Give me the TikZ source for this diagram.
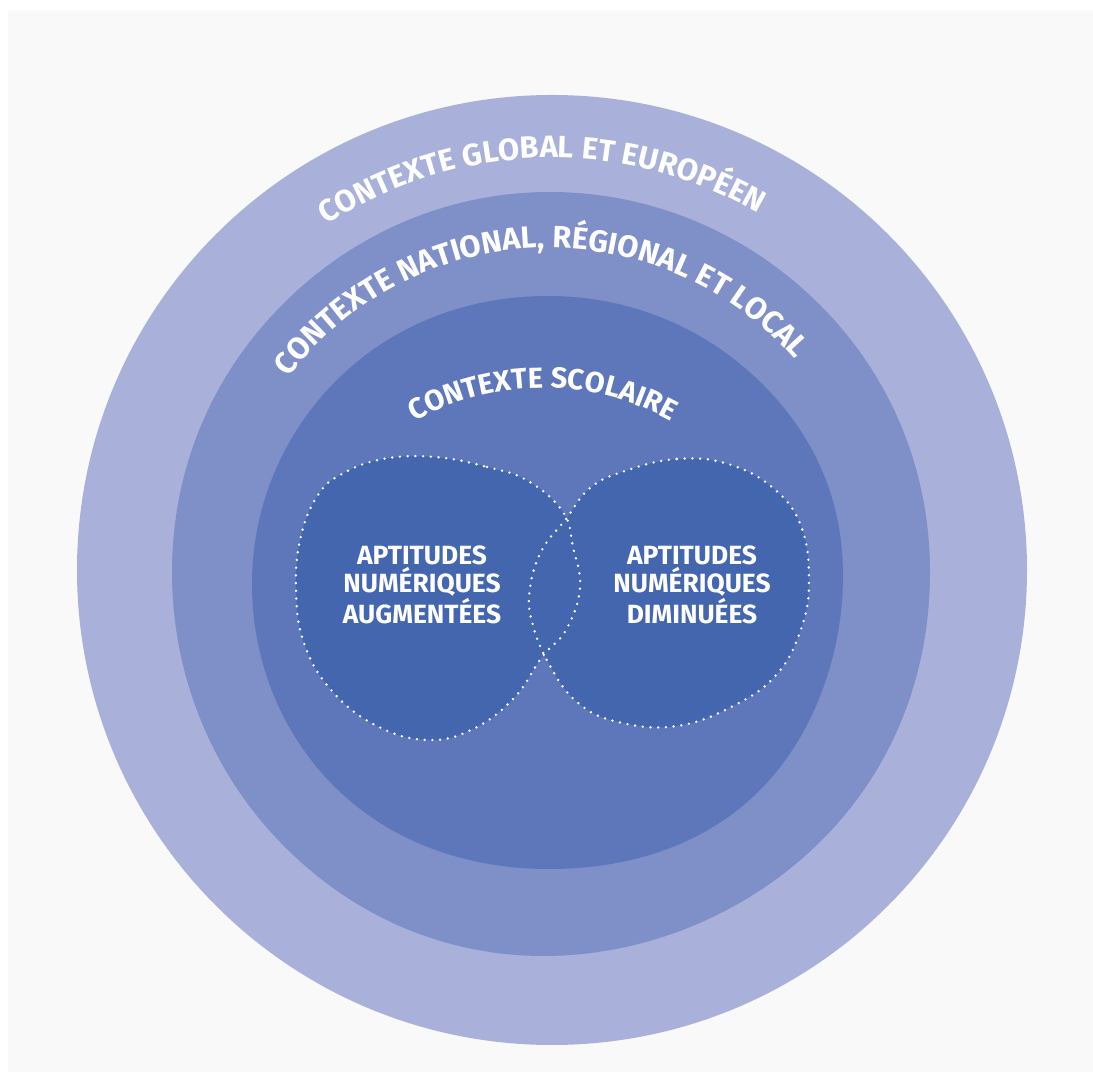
\documentclass[tikz,border=0pt]{standalone}
\usepackage{fontspec}
\setmainfont{Fira Sans}
\usepackage{tikz}
\usetikzlibrary{decorations.text}

\definecolor{fondgris}{HTML}{F9F9FA}
\definecolor{globalbleu}{HTML}{A9B1DA}
\definecolor{nationalbleu}{HTML}{7F8FC8}
\definecolor{scolairebleu}{HTML}{5E77BA}
\definecolor{aptitudebleu}{HTML}{4466AF}

\newcommand{\ringfont}{\fontsize{17.5}{19}\selectfont\bfseries}
\newcommand{\ecolefont}{\fontsize{16.5}{18}\selectfont\bfseries}

\begin{document}
\begin{tikzpicture}[x=0.02cm,y=0.02cm]
	
	\tikzset{ring text/.style={decorate, decoration={text along path, text align=center, text color=white}}}
	\tikzset{lobe/.style={fill=aptitudebleu}}
	\tikzset{lobe border/.style={white, line width=1.5pt, line cap=round, dash pattern=on 0pt off 4.4pt}}
	\tikzset{lobe text/.style={text=white, align=center, font=\fontsize{15}{16.2}\selectfont\bfseries}}
	
	\useasboundingbox (0,0) rectangle (1093,1072);
	\fill[white] (0,0) rectangle (1093,1072);
	\fill[fondgris] (8,0) rectangle (1093,1062);
	
	% global context
	\fill[globalbleu] (552,502) circle (475);
	
	% national context
	\fill[nationalbleu] plot[smooth cycle, tension=0.68] coordinates {
		(550,880) (819,768) (930,502) (822,232) (545,116) (280,230) (172,502) (283,768)};
	
	% school context
	\fill[scolairebleu] plot[smooth cycle, tension=0.68] coordinates {
		(548,776) (755,695) (843,500) (760,282) (548,203) (337,283) (252,490) (340,695)};
	
	% the two lobes
	\fill[lobe] plot[smooth cycle, tension=0.7] coordinates {
		(435,615) (487,605) (528,591) (563,560) (573,525) (580,484) (566,442)
		(542,415) (514,374) (473,343) (428,332) (377,346) (332,381) (304,429)
		(296,484) (301,536) (318,577) (342,598) (383,613)};
	\fill[lobe] plot[smooth cycle, tension=0.7] coordinates {
		(625,601) (677,613) (728,608) (773,584) (801,546) (809,491) (801,443)
		(777,398) (735,367) (677,346) (618,350) (577,370) (549,408) (532,450)
		(530,484) (542,522) (566,553) (590,584)};
	
	\draw[lobe border] plot[smooth cycle, tension=0.7] coordinates {
		(435,615) (487,605) (528,591) (563,560) (573,525) (580,484) (566,442)
		(542,415) (514,374) (473,343) (428,332) (377,346) (332,381) (304,429)
		(296,484) (301,536) (318,577) (342,598) (383,613)};
	\draw[lobe border] plot[smooth cycle, tension=0.7] coordinates {
		(625,601) (677,613) (728,608) (773,584) (801,546) (809,491) (801,443)
		(777,398) (735,367) (677,346) (618,350) (577,370) (549,408) (532,450)
		(530,484) (542,522) (566,553) (590,584)};
	
	% curved titles
	\path[ring text, decoration={text={|\ringfont|CONTEXTE GLOBAL ET EUROPÉEN}}]
		(552,502) ++(161.5:412) arc (161.5:21.5:412);
	\path[ring text, decoration={text={|\ringfont|CONTEXTE NATIONAL, RÉGIONAL ET LOCAL}}]
		(549,497) ++(162:327) arc (162:22:327);
	\path[ring text, decoration={text={|\ecolefont|CONTEXTE SCOLAIRE}}]
		(543,420) ++(160:264) arc (160:20:264);
	
	\node[lobe text] (augm) at (422,487) {APTITUDES\\NUMÉRIQUES\\AUGMENTÉES};
	\node[lobe text] (dimin) at (692,487) {APTITUDES\\NUMÉRIQUES\\DIMINUÉES};
	
\end{tikzpicture}
\end{document}
